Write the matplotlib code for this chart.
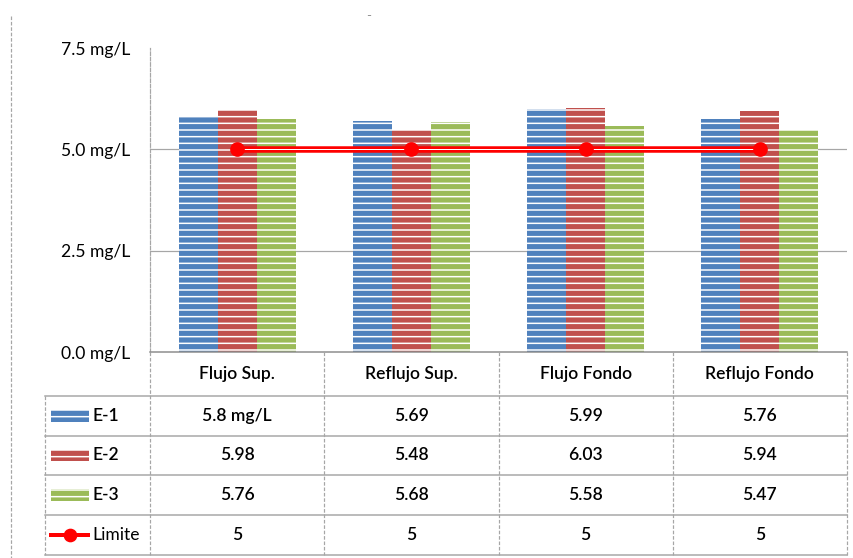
import matplotlib
matplotlib.use("Agg")
import matplotlib.pyplot as plt
from matplotlib.patches import Rectangle
from matplotlib.lines import Line2D

# data
categories = ["Flujo Sup.", "Reflujo Sup.", "Flujo Fondo", "Reflujo Fondo"]
series_names = ["E-1", "E-2", "E-3"]
e1 = [5.8, 5.69, 5.99, 5.76]
e2 = [5.98, 5.48, 6.03, 5.94]
e3 = [5.76, 5.68, 5.58, 5.47]
limite = [5, 5, 5, 5]
y_ticks = [0.0, 2.5, 5.0, 7.5]

colors = ["#4F81BD", "#C0504D", "#9BBB59"]
red = "#FF0000"
grey = "#A6A6A6"

DPI = 120
W, H = 853, 558
plt.rcParams['font.family'] = ['Lato', 'DejaVu Sans']
plt.rcParams['hatch.linewidth'] = 0.9
plt.rcParams['hatch.color'] = 'white'


def fx(px):
    return px / W


def fy(py):
    return 1 - py / H


def pt(px):
    return px * 72 / DPI


fig = plt.figure(figsize=(W / DPI, H / DPI), dpi=DPI)

ax = fig.add_axes([fx(150), fy(352), fx(847) - fx(150), fy(48) - fy(352)])
ax.set_xlim(-0.5, 3.5)
ax.set_ylim(0, 7.5)

bw = 0.224
for k, vals in enumerate([e1, e2, e3]):
    xs = [i + (k - 1) * bw for i in range(len(categories))]
    ax.bar(xs, vals, width=bw, color=colors[k], edgecolor='white',
           linewidth=0, hatch='---', zorder=2)

for yv in y_ticks[1:3]:
    ax.axhline(yv, color=grey, lw=pt(1.2), zorder=1)

xi = list(range(len(categories)))
ax.plot(xi, limite, color=red, lw=pt(6.5), zorder=3, solid_capstyle='butt')
ax.plot(xi, limite, color='white', lw=pt(1.0), zorder=4, solid_capstyle='butt')
ax.plot(xi, limite, 'o', color=red, ms=pt(13), zorder=5, mec=red)

ax.set_xticks([])
ax.set_yticks(y_ticks)
ax.set_yticklabels([f"{v:.1f} mg/L" for v in y_ticks], fontsize=10.5)
ax.tick_params(axis='y', length=0, pad=pt(20))
for s in ['top', 'right']:
    ax.spines[s].set_visible(False)
ax.spines['bottom'].set_color('#8C8C8C')
ax.spines['bottom'].set_linewidth(pt(1.5))
ax.spines['left'].set_color(grey)
ax.spines['left'].set_linewidth(pt(1.2))
ax.spines['left'].set_linestyle((0, (3, 1.5)))

# data table below the plot
tab = fig.add_axes([fx(45), fy(555), fx(847) - fx(45), fy(352) - fy(555)])
tab.axis('off')
xl = -0.5 - (150 - 45) / 174.25
tab.set_xlim(xl, 3.5)
tab.set_ylim(204, 0)
rows = [0, 44, 84, 124, 164, 204]

for r in rows[1:]:
    tab.plot([xl, 3.5], [r, r], color=grey, lw=pt(1.5), clip_on=False)
dash = (0, (3, 1.5))
tab.plot([xl, xl], [44, 204], color=grey, lw=pt(1.2), ls=dash, clip_on=False)
for xv in [-0.5, 0.5, 1.5, 2.5, 3.5]:
    tab.plot([xv, xv], [0, 204], color=grey, lw=pt(1.2), ls=dash, clip_on=False)

tfs = 10.5
for i, c in enumerate(categories):
    tab.text(i, 22, c, ha='center', va='center', fontsize=tfs, fontweight='semibold')


def fmt(v, first):
    return f"{v:g} mg/L" if first else f"{v:g}"


table_rows = [e1, e2, e3, limite]
for j, vals in enumerate(table_rows):
    yc = (rows[j + 1] + rows[j + 2]) / 2
    for i, v in enumerate(vals):
        tab.text(i, yc, fmt(v, i == 0 and j == 0), ha='center', va='center',
                 fontsize=tfs, fontweight='semibold')

kx = xl + (50.7 - 45) / 174.25
kw = 38.6 / 174.25
lx = -0.5 - (150 - 93) / 174.25
for j, name in enumerate(series_names):
    yc = (rows[j + 1] + rows[j + 2]) / 2
    tab.add_patch(Rectangle((kx, yc - 6), kw, 12, facecolor=colors[j],
                            edgecolor='white', linewidth=0, hatch='---'))
    tab.text(lx, yc, name, ha='left', va='center', fontsize=tfs, fontweight='semibold')

yc = (rows[4] + rows[5]) / 2
lk = [xl + (49 - 45) / 174.25, xl + (90 - 45) / 174.25]
tab.plot(lk, [yc, yc], color=red, lw=pt(4), solid_capstyle='butt')
tab.plot([sum(lk) / 2], [yc], 'o', color=red, ms=pt(12))
tab.text(xl + (92 - 45) / 174.25, yc, "Limite", ha='left', va='center', fontsize=tfs)

# chart area border and title remnant
fig.add_artist(Line2D([fx(11), fx(11)], [fy(16), fy(558)], color=grey,
                      lw=pt(1.2), ls=dash))
fig.text(fx(369), fy(16), "-", ha='center', va='center', fontsize=8, color='#909090')

fig.savefig("out.png", dpi=DPI)
